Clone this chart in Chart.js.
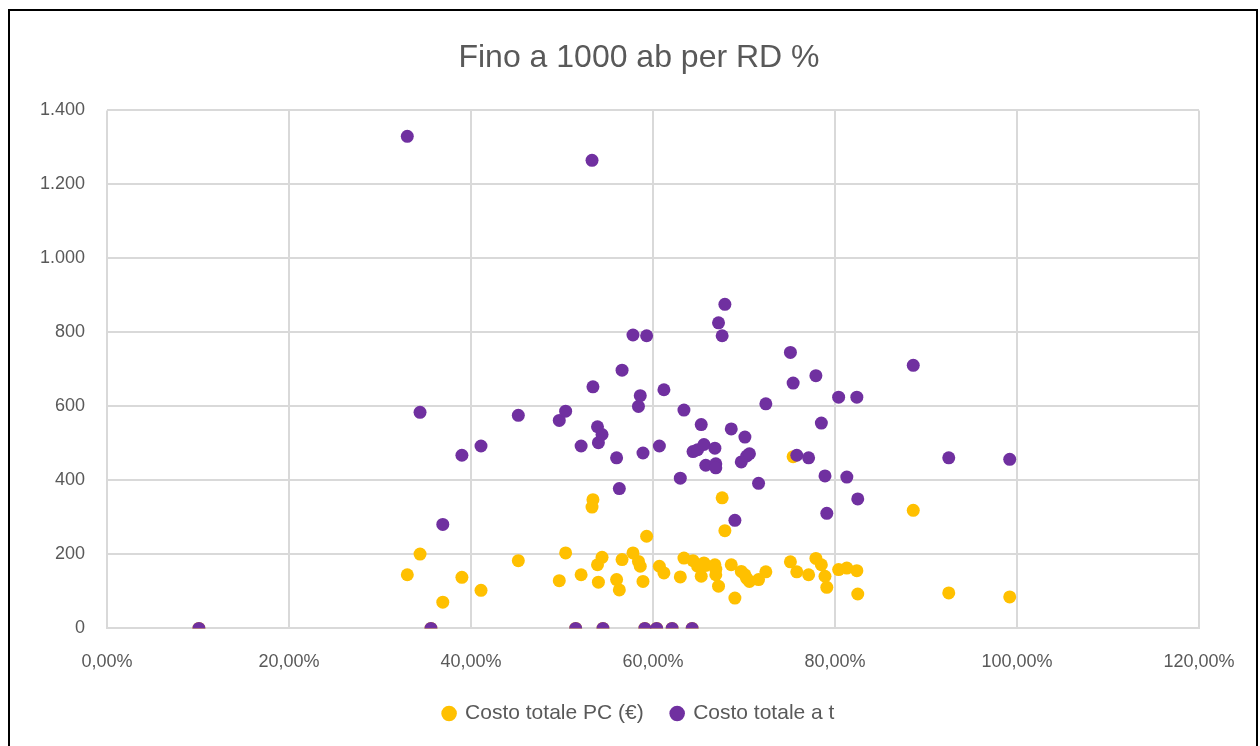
<!DOCTYPE html>
<html>
<head>
<meta charset="utf-8">
<script src="https://cdn.jsdelivr.net/npm/chart.js@4/dist/chart.umd.min.js"></script>
<style>
  body { margin: 0; background: #fff; }
  #box { position: absolute; left: 8px; top: 9px; width: 1246px; height: 760px; border: 2px solid #000; }
  #wrap { position: relative; width: 1246px; height: 735px; }
</style>
</head>
<body>
<div id="box"><div id="wrap"><canvas id="myChart"></canvas></div></div>
<script>
// RD % (x) shared by both series
var rdPerc = [0.101, 0.330, 0.344, 0.356, 0.369, 0.390, 0.411, 0.452, 0.497, 0.504,
  0.515, 0.521, 0.533, 0.534, 0.539, 0.540, 0.544, 0.545, 0.560, 0.563,
  0.566, 0.578, 0.584, 0.586, 0.589, 0.591, 0.593, 0.604, 0.607, 0.612,
  0.621, 0.630, 0.634, 0.643, 0.644, 0.649, 0.653, 0.656, 0.658, 0.668,
  0.669, 0.669, 0.672, 0.676, 0.679, 0.686, 0.690, 0.697, 0.701, 0.703,
  0.706, 0.716, 0.724, 0.751, 0.754, 0.758, 0.771, 0.779, 0.785, 0.789,
  0.791, 0.804, 0.813, 0.824, 0.825, 0.886, 0.925, 0.992];
var costoPC = [0, 145, 201, 0, 71, 138, 103, 183, 129, 204,
  0, 145, 328, 348, 172, 125, 192, 0, 132, 104,
  186, 204, 181, 168, 127, 0, 249, 0, 168, 150,
  0, 139, 190, 0, 183, 168, 141, 177, 170, 172,
  145, 160, 114, 353, 264, 172, 82, 154, 145, 135,
  127, 132, 153, 180, 464, 153, 145, 189, 172, 141,
  111, 159, 163, 156, 93, 319, 96, 85];
var costoT = [0, 1330, 584, 0, 281, 468, 493, 576, 562, 587,
  0, 493, 1265, 653, 545, 502, 524, 0, 461, 378,
  698, 793, 600, 629, 474, 0, 791, 0, 493, 645,
  0, 406, 590, 0, 478, 483, 551, 497, 441, 487,
  445, 434, 826, 791, 876, 539, 292, 450, 517, 466,
  472, 392, 607, 746, 663, 468, 461, 683, 555, 412,
  311, 625, 409, 625, 350, 711, 461, 457];
var seriesNames = ["Costo totale PC (€)", "Costo totale a t"];

function toPoints(ys) {
  var pts = [];
  for (var i = 0; i < rdPerc.length; i++) pts.push({ x: rdPerc[i], y: ys[i] });
  return pts;
}

var grey = "#595959";
var gridCol = "#d9d9d9";
var ctx = document.getElementById("myChart").getContext("2d");
var myChart = new Chart(ctx, {
  type: "scatter",
  data: {
    datasets: [
      { label: seriesNames[0], data: toPoints(costoPC), backgroundColor: "#FFC000", borderColor: "#FFC000",
        pointRadius: 6.5, pointHoverRadius: 6.5, borderWidth: 0, order: 2 },
      { label: seriesNames[1], data: toPoints(costoT), backgroundColor: "#7030A0", borderColor: "#7030A0",
        pointRadius: 6.5, pointHoverRadius: 6.5, borderWidth: 0, order: 1 }
    ]
  },
  options: {
    responsive: true,
    maintainAspectRatio: false,
    animation: false,
    layout: { padding: { left: 12, right: 0, top: 0, bottom: 15 } },
    plugins: {
      title: {
        display: true, text: "Fino a 1000 ab per RD %", color: grey,
        font: { family: "Liberation Sans", size: 32, weight: "normal" },
        padding: { top: 28, bottom: 33 }
      },
      legend: {
        position: "bottom",
        maxHeight: 56,
        labels: {
          usePointStyle: true, pointStyle: "circle", boxWidth: 11, boxHeight: 11,
          color: grey, font: { family: "Liberation Sans", size: 21 }, padding: 28,
          sort: function (a, b) { return a.datasetIndex - b.datasetIndex; }
        }
      },
      tooltip: { enabled: false }
    },
    scales: {
      x: {
        type: "linear", min: 0, max: 1.2,
        ticks: {
          stepSize: 0.2, color: grey, padding: 23,
          font: { family: "Liberation Sans", size: 18 },
          callback: function (v) { return (v * 100).toFixed(2).replace(".", ",") + "%"; }
        },
        grid: { color: gridCol, lineWidth: 2, drawTicks: false },
        border: { color: gridCol, width: 2 },
        afterFit: function (scale) { scale.paddingRight = 57; scale.height -= 21; }
      },
      y: {
        min: 0, max: 1400,
        ticks: {
          stepSize: 200, color: grey, padding: 22,
          font: { family: "Liberation Sans", size: 18 },
          callback: function (v) { return v.toLocaleString("de-DE"); }
        },
        grid: { color: gridCol, lineWidth: 2, drawTicks: false },
        border: { display: false },
        afterFit: function (scale) { scale.width = 85; }
      }
    }
  }
});
</script>
</body>
</html>
